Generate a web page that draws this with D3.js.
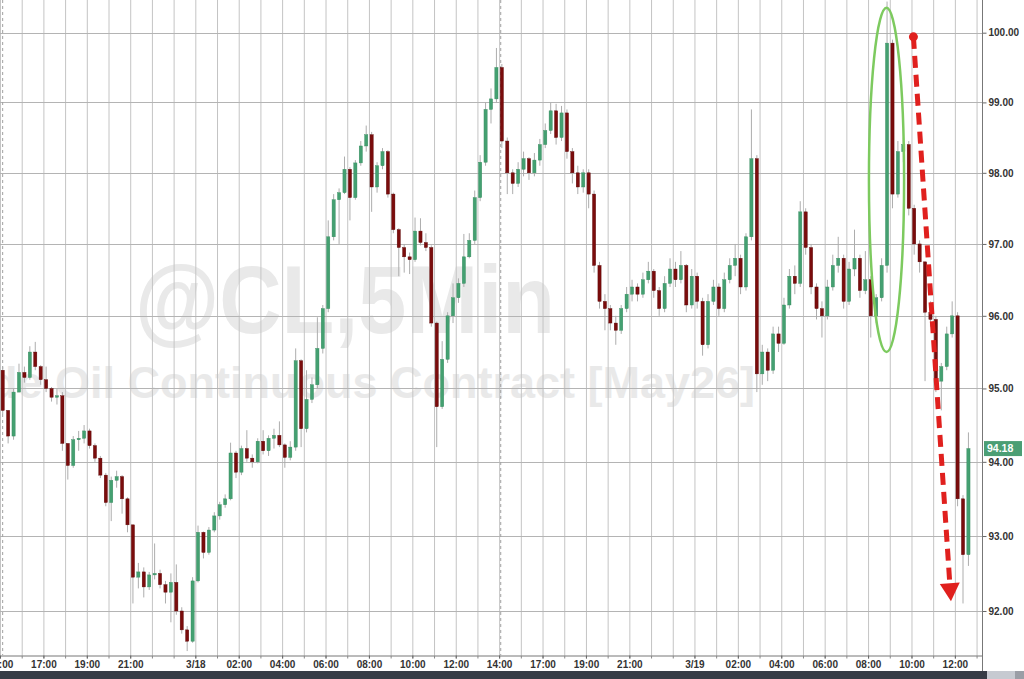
<!DOCTYPE html>
<html>
<head>
<meta charset="utf-8">
<script src="https://cdn.jsdelivr.net/npm/d3@7"></script>
<style>
  html, body { margin: 0; padding: 0; background: #fff; }
  svg { display: block; font-family: Arial, "Liberation Sans", sans-serif; }
</style>
</head>
<body>
<div id="chart"></div>
<script>
// @CL 15-minute candles, 3/17 14:00 -> 3/19 ~12:45
// time is counted in trading hours since 3/17 14:00 (16:00-17:00 break left out)
const firstOpen = 95.25;

const closes = [
  94.70, 94.35, 94.95, 95.22, 95.15, 95.50, 95.30, 95.12, 95.00, 94.88,
  94.90, 94.25, 93.95, 94.30, 94.32, 94.42, 94.22, 94.05, 93.82, 93.45,
  93.75, 93.80, 93.50, 93.15, 92.45, 92.52, 92.32, 92.48, 92.50, 92.35,
  92.25, 92.38, 92.00, 91.75, 91.60, 92.40, 93.05, 92.78, 93.08, 93.27,
  93.42, 93.50, 94.12, 93.86, 94.18, 94.05, 94.00, 94.28, 94.15, 94.32,
  94.36, 94.23, 94.06, 94.20, 95.38, 94.45, 94.85, 95.05, 95.55, 96.10,
  97.10, 97.62, 97.72, 98.05, 97.65, 98.14, 98.38, 98.54, 97.80, 98.10,
  98.30, 97.70, 97.20, 96.95, 96.82, 96.78, 97.18, 97.02, 96.95, 95.90,
  94.75, 95.40, 96.00, 96.25, 96.45, 96.82, 97.05, 97.65, 98.15, 98.90,
  99.05, 99.50, 98.45, 98.00, 97.85, 98.05, 98.20, 98.00, 98.18, 98.40,
  98.60, 98.88, 98.50, 98.85, 98.30, 98.00, 97.80, 98.00, 97.70, 96.70,
  96.20, 96.10, 95.90, 95.80, 96.10, 96.30, 96.40, 96.30, 96.50, 96.62,
  96.35, 96.10, 96.45, 96.65, 96.50, 96.70, 96.15, 96.55, 96.20, 95.60,
  96.20, 96.40, 96.10, 96.50, 96.70, 96.80, 96.40, 97.10, 98.20, 95.20,
  95.50, 95.25, 95.75, 95.62, 96.15, 96.55, 96.45, 97.45, 96.95, 96.40,
  96.10, 96.00, 96.40, 96.70, 96.80, 96.20, 96.65, 96.80, 96.35, 96.50,
  96.00, 96.25, 96.70, 99.85, 97.70, 98.30, 98.40, 97.50, 97.00, 96.75,
  96.05, 95.95, 95.10, 95.30, 95.75, 96.00, 93.50, 92.75, 94.18
];

const highs = [
  95.30, 94.70, 95.00, 95.34, 95.30, 95.58, 95.64, 95.32, 95.30, 95.02,
  95.00, 94.95, 94.25, 94.35, 94.42, 94.50, 94.45, 94.25, 94.08, 93.85,
  93.80, 93.88, 93.82, 93.52, 93.12, 92.64, 92.58, 92.52, 92.90, 92.55,
  92.40, 92.50, 92.62, 92.05, 91.80, 92.45, 93.14, 93.06, 93.12, 93.32,
  93.46, 93.56, 94.26, 94.15, 94.22, 94.43, 94.10, 94.32, 94.43, 94.36,
  94.45, 94.55, 94.25, 94.28, 95.55, 95.40, 95.25, 95.15, 95.98, 96.15,
  97.33, 97.70, 97.78, 98.23, 98.08, 98.18, 98.45, 98.67, 98.58, 98.15,
  98.35, 98.32, 97.72, 97.22, 97.00, 96.88, 97.37, 97.36, 97.15, 96.98,
  95.92, 95.65, 96.05, 96.45, 96.52, 97.14, 97.15, 97.75, 98.25, 99.00,
  99.20, 99.78, 99.55, 98.50, 98.05, 98.15, 98.30, 98.22, 98.28, 98.48,
  98.70, 99.00, 98.98, 98.95, 98.90, 98.35, 98.10, 98.05, 98.05, 97.75,
  96.75, 96.30, 96.15, 96.00, 96.15, 96.40, 96.50, 96.45, 96.60, 96.75,
  96.65, 96.40, 96.55, 96.80, 96.75, 96.90, 96.72, 96.65, 96.60, 96.25,
  96.30, 96.50, 96.45, 96.60, 96.80, 97.00, 96.85, 97.15, 98.90, 98.25,
  95.60, 95.55, 95.85, 95.85, 96.25, 96.65, 96.70, 97.60, 97.50, 97.00,
  96.45, 96.20, 96.50, 96.85, 97.10, 96.85, 96.75, 97.20, 96.85, 96.90,
  96.55, 96.30, 96.80, 100.45, 99.90, 98.45, 98.50, 98.45, 97.55, 97.05,
  96.75, 96.20, 96.00, 95.35, 95.85, 96.20, 96.05, 93.55, 94.40
];

const lows = [
  94.65, 94.25, 94.30, 94.95, 95.08, 95.12, 95.25, 95.05, 94.95, 94.82,
  94.78, 94.15, 93.76, 93.92, 94.15, 94.25, 94.18, 94.00, 93.78, 93.40,
  93.20, 93.65, 93.30, 93.05, 92.10, 92.30, 92.18, 92.28, 92.42, 92.30,
  92.10, 91.85, 91.95, 91.70, 91.47, 91.58, 92.38, 92.70, 92.75, 93.05,
  93.22, 93.38, 93.48, 93.78, 93.82, 94.00, 93.92, 93.98, 94.10, 94.08,
  94.18, 94.20, 93.92, 94.02, 94.15, 94.20, 94.40, 94.80, 95.00, 95.48,
  96.05, 97.05, 97.00, 97.70, 97.33, 97.62, 98.10, 98.30, 97.45, 97.72,
  98.05, 97.65, 97.15, 96.55, 96.60, 96.58, 96.75, 96.98, 96.90, 95.85,
  94.20, 94.72, 95.35, 95.90, 96.18, 96.40, 96.80, 97.00, 97.60, 98.10,
  98.70, 99.00, 98.35, 97.70, 97.70, 97.80, 97.95, 97.90, 97.95, 98.10,
  98.35, 98.55, 98.40, 98.45, 98.20, 97.85, 97.70, 97.72, 97.50, 96.60,
  96.10, 95.80, 95.80, 95.60, 95.75, 96.05, 96.20, 96.20, 96.25, 96.45,
  96.25, 96.00, 96.05, 96.40, 96.40, 96.45, 96.05, 96.10, 96.10, 95.45,
  95.55, 96.15, 96.00, 96.05, 96.45, 96.55, 96.30, 96.35, 97.05, 94.95,
  95.05, 95.10, 95.20, 95.50, 95.60, 96.10, 96.30, 96.40, 96.85, 96.30,
  95.95, 95.70, 95.95, 96.35, 96.60, 96.10, 96.15, 96.55, 96.25, 96.30,
  95.70, 95.90, 96.20, 96.60, 97.50, 97.65, 98.15, 97.40, 96.85, 96.60,
  95.10, 95.85, 94.95, 94.70, 95.25, 95.70, 93.40, 92.10, 92.60
];

const priceTicks = [92, 93, 94, 95, 96, 97, 98, 99, 100];
const tickHours = [0, 2, 4, 6, 9, 11, 13, 15, 17, 19, 21, 23, 25, 27, 29, 32, 34, 36, 38, 40, 42, 44];
const tickLabels = ["14:00", "17:00", "19:00", "21:00", "3/18", "02:00", "04:00", "06:00", "08:00", "10:00", "12:00",
                    "14:00", "17:00", "19:00", "21:00", "3/19", "02:00", "04:00", "06:00", "08:00", "10:00", "12:00"];
const sessionLines = [0.1, 23.05];
const lastPrice = 94.18;

// annotations, in (trading hour, price)
const spikeOval = { t: 40.85, halfWidth: 0.81, top: 100.36, bottom: 95.5 };
const dropArrow = { t0: 42.09, p0: 99.94, t1: 43.82, p1: 92.13 };

const W = 1024, H = 679;
const plotW = 982, plotH = 655;
const candleHours = 0.25;

const svg = d3.select("#chart").append("svg")
    .attr("width", W)
    .attr("height", H);

svg.append("rect").attr("width", W).attr("height", H).attr("fill", "#fff");

const x = d3.scaleLinear().domain([0, 45.25]).range([0, plotW]);
const y = d3.scaleLog().domain([92, 100]).range([611, 32.7]);

svg.append("defs").append("clipPath").attr("id", "plot-clip")
    .append("rect").attr("width", plotW).attr("height", plotH);

const plot = svg.append("g").attr("clip-path", "url(#plot-clip)");

// watermark
plot.append("text")
    .attr("x", 135).attr("y", 333)
    .attr("textLength", 420).attr("lengthAdjust", "spacingAndGlyphs")
    .style("font-size", "96px").style("font-weight", "bold")
    .style("fill", "#e9e9e9")
    .text("@CL,5Min");

plot.append("text")
    .attr("x", 755).attr("y", 398)
    .attr("text-anchor", "end")
    .style("font-size", "45px").style("font-weight", "bold")
    .style("fill", "#e9e9e9")
    .text("Crude Oil Continuous Contract [May26]");

// grid
plot.selectAll(".vgrid")
    .data(d3.range(0, 46))
    .enter().append("line")
    .attr("class", "vgrid")
    .attr("x1", d => x(d) + 0.5).attr("x2", d => x(d) + 0.5)
    .attr("y1", 0).attr("y2", plotH)
    .attr("stroke", "#c4c4c4").attr("stroke-width", 1);

plot.selectAll(".hgrid")
    .data(priceTicks)
    .enter().append("line")
    .attr("class", "hgrid")
    .attr("x1", 0).attr("x2", plotW)
    .attr("y1", d => Math.round(y(d)) + 0.5).attr("y2", d => Math.round(y(d)) + 0.5)
    .attr("stroke", "#b4b4b4").attr("stroke-width", 1);

plot.selectAll(".session")
    .data(sessionLines)
    .enter().append("line")
    .attr("class", "session")
    .attr("x1", d => x(d) + 0.5).attr("x2", d => x(d) + 0.5)
    .attr("y1", 0).attr("y2", plotH)
    .attr("stroke", "#a0a0a0").attr("stroke-width", 1)
    .attr("stroke-dasharray", "3,3");

// candles
const candles = closes.map((c, i) => ({
    t: i * candleHours + candleHours / 2,
    o: i === 0 ? firstOpen : closes[i - 1],
    c: c,
    h: highs[i],
    l: lows[i]
}));

const bodyW = 3.2;

plot.selectAll(".wick")
    .data(candles)
    .enter().append("line")
    .attr("class", "wick")
    .attr("x1", d => x(d.t)).attr("x2", d => x(d.t))
    .attr("y1", d => y(Math.max(d.h, d.o, d.c)))
    .attr("y2", d => y(Math.min(d.l, d.o, d.c)))
    .attr("stroke", "#adadad").attr("stroke-width", 1);

plot.selectAll(".body")
    .data(candles)
    .enter().append("rect")
    .attr("class", "body")
    .attr("x", d => x(d.t) - bodyW / 2)
    .attr("y", d => y(Math.max(d.o, d.c)))
    .attr("width", bodyW)
    .attr("height", d => Math.max(1.5, Math.abs(y(d.o) - y(d.c))))
    .attr("fill", d => d.c >= d.o ? "#44a071" : "#7a0c0c")
    .attr("stroke", d => d.c >= d.o ? "#358a5e" : "#5a0707")
    .attr("stroke-width", 0.4);

// annotations
plot.append("ellipse")
    .attr("cx", x(spikeOval.t))
    .attr("cy", (y(spikeOval.top) + y(spikeOval.bottom)) / 2)
    .attr("rx", x(spikeOval.t + spikeOval.halfWidth) - x(spikeOval.t))
    .attr("ry", (y(spikeOval.bottom) - y(spikeOval.top)) / 2)
    .attr("fill", "none")
    .attr("stroke", "#7dca5f").attr("stroke-width", 2.5);

const ax0 = x(dropArrow.t0), ay0 = y(dropArrow.p0);
const ax1 = x(dropArrow.t1), ay1 = y(dropArrow.p1);
const ang = Math.atan2(ay1 - ay0, ax1 - ax0);
const headLen = 18, headHalf = 10;
const bx = ax1 - headLen * Math.cos(ang), by = ay1 - headLen * Math.sin(ang);

plot.append("line")
    .attr("x1", ax0).attr("y1", ay0)
    .attr("x2", bx).attr("y2", by)
    .attr("stroke", "#e0201e").attr("stroke-width", 5)
    .attr("stroke-dasharray", "12,7");

plot.append("circle")
    .attr("cx", ax0).attr("cy", ay0).attr("r", 4.5)
    .attr("fill", "#e0201e");

plot.append("path")
    .attr("d", d3.line()([
        [ax1, ay1],
        [bx + headHalf * Math.sin(ang), by - headHalf * Math.cos(ang)],
        [bx - headHalf * Math.sin(ang), by + headHalf * Math.cos(ang)]
    ]) + "Z")
    .attr("fill", "#e0201e");

// right price axis
const yAxis = svg.append("g")
    .attr("transform", `translate(${plotW + 0.5},0)`)
    .call(d3.axisRight(y).tickValues(priceTicks).tickFormat(d3.format(".2f")).tickSize(4).tickSizeOuter(0));
yAxis.select(".domain").remove();
yAxis.selectAll("line").attr("stroke", "#666");
yAxis.selectAll("text")
    .attr("x", 6)
    .style("font-size", "10px").style("font-weight", "bold")
    .style("fill", "#333");

svg.append("line")
    .attr("x1", plotW + 0.5).attr("x2", plotW + 0.5)
    .attr("y1", 0).attr("y2", 671)
    .attr("stroke", "#777");

// bottom time axis
const hourAxis = svg.append("g")
    .attr("transform", `translate(0,${plotH + 0.5})`)
    .call(d3.axisBottom(x).tickValues(d3.range(0, 46)).tickFormat("").tickSize(3).tickSizeOuter(0));
hourAxis.select(".domain").attr("stroke", "#777");
hourAxis.selectAll("line").attr("stroke", "#888");

const xAxis = svg.append("g")
    .attr("transform", `translate(0,${plotH + 0.5})`)
    .call(d3.axisBottom(x).tickValues(tickHours).tickFormat((d, i) => tickLabels[i]).tickSize(3).tickSizeOuter(0));
xAxis.select(".domain").remove();
xAxis.selectAll("line").attr("stroke", "#666");
xAxis.selectAll("text")
    .attr("y", 5)
    .style("font-size", "10px").style("font-weight", "bold")
    .style("fill", "#333");

// last price tag
const lastY = y(lastPrice);
svg.append("rect")
    .attr("x", 984).attr("y", lastY - 7.5)
    .attr("width", 38).attr("height", 15)
    .attr("fill", "#4b9e74");
svg.append("text")
    .attr("x", 987).attr("y", lastY)
    .attr("dy", "0.35em")
    .style("font-size", "10.5px").style("font-weight", "bold")
    .style("fill", "#fff")
    .text(d3.format(".2f")(lastPrice));

// scroll bar strip at the bottom
svg.append("rect").attr("x", 0).attr("y", 671).attr("width", W).attr("height", 8).attr("fill", "#363c46");
svg.append("rect").attr("x", 987).attr("y", 671).attr("width", 28).attr("height", 8).attr("fill", "#c6cad1");
svg.append("rect").attr("x", 1015).attr("y", 671).attr("width", 9).attr("height", 8).attr("fill", "#9a9ea6");
</script>
</body>
</html>
